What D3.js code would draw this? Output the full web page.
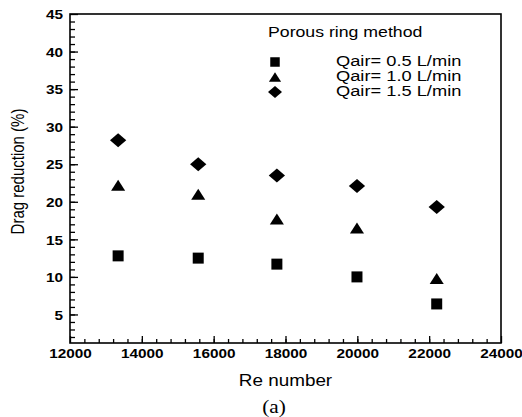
<!DOCTYPE html>
<html>
<head>
<meta charset="utf-8">
<script src="https://d3js.org/d3.v7.min.js"></script>
<style>
  body { margin: 0; background: #fff; }
  text { font-family: Arial, "Liberation Sans", sans-serif; fill: #000; }
</style>
</head>
<body>
<div id="chart"></div>
<script>
var width = 522,
    height = 417;

var margin = {top: 14, right: 21, bottom: 74, left: 70};

// Re numbers of the five test runs
var reNumbers = [13340, 15570, 17760, 19990, 22210];

// drag reduction (%) per air flow rate
var dr05 = [12.8, 12.5, 11.7, 10.0, 6.4];
var dr10 = [22.2, 21.0, 17.7, 16.5, 9.8];
var dr15 = [28.2, 25.0, 23.5, 22.1, 19.3];

var seriesNames = ["Qair= 0.5 L/min", "Qair= 1.0 L/min", "Qair= 1.5 L/min"];
var seriesShapes = ["square", "triangle", "diamond"];

var xTicks = [12000, 14000, 16000, 18000, 20000, 22000, 24000];
var yTicks = [5, 10, 15, 20, 25, 30, 35, 40, 45];

var stretch = 1.18; // the picture is a bit wide, text too

var svg = d3.select("#chart").append("svg")
    .attr("width", width)
    .attr("height", height);

var w = width - margin.left - margin.right,
    h = height - margin.top - margin.bottom;

var x = d3.scaleLinear().domain([12000, 24000]).range([0, w]);
var y = d3.scaleLinear().domain([1.2, 45]).range([h, 0]);

var g = svg.append("g")
    .attr("transform", "translate(" + margin.left + "," + margin.top + ")");

// minor ticks
g.append("g")
    .attr("class", "minor")
    .attr("transform", "translate(0," + h + ")")
    .call(d3.axisBottom(x).tickValues(d3.range(12400, 24000, 400)).tickSize(-4).tickFormat(""));
g.append("g")
    .attr("class", "minor")
    .call(d3.axisLeft(y).tickValues(d3.range(2, 45, 1)).tickSize(-5).tickFormat(""));

// major ticks
var xAxis = g.append("g")
    .attr("transform", "translate(0," + h + ")")
    .call(d3.axisBottom(x).tickValues(xTicks).tickSize(-7).tickFormat(d3.format("d")));
xAxis.selectAll("text")
    .attr("y", 15)
    .attr("dy", 0)
    .attr("transform", "scale(" + stretch + ",1)")
    .style("font-size", "13px")
    .style("font-weight", "bold");

var yAxis = g.append("g")
    .call(d3.axisLeft(y).tickValues(yTicks).tickSize(-8));
yAxis.selectAll("text")
    .attr("x", -6)
    .attr("dy", "0.36em")
    .attr("transform", "scale(" + stretch + ",1)")
    .style("font-size", "13px")
    .style("font-weight", "bold");

svg.selectAll(".domain").remove();
svg.selectAll(".tick line").attr("stroke", "#000").attr("stroke-width", 1.3);

// frame
g.append("rect")
    .attr("width", w)
    .attr("height", h)
    .attr("fill", "none")
    .attr("stroke", "#000")
    .attr("stroke-width", 1.6);

function marker(shape, s) {
  if (shape == "square") {
    var a = s * 0.5;
    return "M" + (-a) + "," + (-a) + "H" + a + "V" + a + "H" + (-a) + "Z";
  } else if (shape == "triangle") {
    var tw = s * 0.64, th = s * 0.5;
    return "M0," + (-th) + "L" + tw + "," + th + "L" + (-tw) + "," + th + "Z";
  } else {
    var dw = s * 0.74, dh = s * 0.64;
    return "M0," + (-dh) + "L" + dw + ",0L0," + dh + "L" + (-dw) + ",0Z";
  }
}

var allSeries = [dr05, dr10, dr15];

allSeries.forEach(function(vals, i) {
  g.append("g").selectAll("path")
    .data(vals)
    .enter().append("path")
      .attr("d", marker(seriesShapes[i], 11))
      .attr("transform", function(d, j) {
        return "translate(" + x(reNumbers[j]) + "," + y(d) + ")";
      })
      .attr("fill", "#000");
});

// legend
var legend = svg.append("g").attr("transform", "translate(268,37)");
legend.append("text")
    .attr("transform", "scale(" + stretch + ",1)")
    .style("font-size", "15px")
    .text("Porous ring method");

seriesNames.forEach(function(name, i) {
  var row = legend.append("g").attr("transform", "translate(0," + (29 + i * 15) + ")");
  row.append("path")
      .attr("d", marker(seriesShapes[i], 9.5))
      .attr("transform", "translate(7,-4)")
      .attr("fill", "#000");
  row.append("text")
      .attr("transform", "translate(68,0) scale(1.26,1)")
      .style("font-size", "14.5px")
      .text(name);
});

// axis titles
svg.append("text")
    .attr("transform", "translate(" + (margin.left + w / 2) + ",386) scale(" + stretch + ",1)")
    .attr("text-anchor", "middle")
    .style("font-size", "16px")
    .text("Re number");

svg.append("text")
    .attr("transform", "translate(24," + (margin.top + h / 2 - 7) + ") rotate(-90) scale(1," + stretch + ")")
    .attr("text-anchor", "middle")
    .style("font-size", "15px")
    .text("Drag reduction (%)");

svg.append("text")
    .attr("transform", "translate(274,413) scale(" + stretch + ",1)")
    .attr("text-anchor", "middle")
    .style("font-family", "'Liberation Serif', 'Times New Roman', serif")
    .style("font-size", "18px")
    .text("(a)");
</script>
</body>
</html>
